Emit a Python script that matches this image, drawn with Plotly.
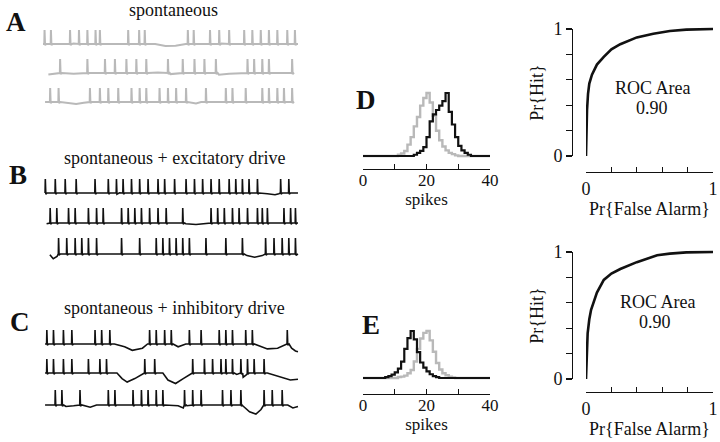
import numpy as np
import plotly.graph_objects as go

W, H = 720, 442
SERIF = "Liberation Serif, Times New Roman, serif"
GREY = "#b9b9b9"
BLACK = "#111111"

# ---------------- data ----------------
# spike times (ms) within a 1000 ms sweep, three sweeps per condition
A_spikes = [
    [5, 30, 105, 140, 173, 205, 222, 333, 376, 398, 567, 590, 654, 690, 729, 788, 820, 853, 885, 918, 957, 987],
    [66, 173, 242, 281, 326, 365, 404, 489, 547, 593, 632, 677, 801, 827, 859, 885, 976],
    [27, 60, 183, 222, 255, 294, 346, 378, 404, 456, 489, 521, 560, 638, 716, 742, 794, 859, 885, 918, 944, 976],
]
B_spikes = [
    [8, 47, 86, 129, 203, 255, 287, 313, 346, 378, 411, 450, 476, 515, 560, 593, 625, 658, 690, 729, 755, 781, 807, 840, 931, 963],
    [27, 53, 99, 125, 177, 209, 235, 307, 333, 359, 385, 417, 450, 482, 547, 658, 684, 710, 742, 768, 801, 840, 859, 879, 944, 970, 989],
    [60, 92, 125, 151, 177, 209, 307, 378, 443, 469, 495, 521, 547, 573, 638, 716, 781, 872, 905, 937, 963, 989],
]
C_spikes = [
    [14, 40, 79, 112, 203, 229, 261, 417, 443, 476, 502, 573, 619, 690, 716, 742, 794, 820, 957],
    [14, 40, 79, 112, 177, 222, 248, 398, 437, 586, 632, 664, 697, 716, 742, 775, 801, 827, 866],
    [47, 73, 144, 255, 281, 352, 385, 411, 443, 469, 554, 586, 619, 703, 736, 775, 866, 898, 937],
]
# sub-threshold membrane potential samples (time ms, relative to spike height)
A_base_t = [
    [0, 120, 250, 330, 440, 480, 520, 560, 700, 1000],
    [21, 120, 300, 450, 500, 690, 730, 780, 983],
    [8, 100, 130, 160, 400, 580, 600, 620, 983],
]
A_base_v = [
    [0, 0.03, 0, -0.05, 0, -0.15, -0.12, 0, 0.03, 0],
    [-0.1, -0.05, 0, 0.03, -0.08, -0.12, -0.05, 0, 0],
    [0, -0.1, -0.15, -0.05, 0, -0.05, -0.1, 0, 0],
]
B_base_t = [
    [8, 300, 600, 880, 910, 925, 1000],
    [14, 260, 560, 600, 630, 900, 1000],
    [27, 40, 55, 300, 600, 800, 830, 860, 1000],
]
B_base_v = [
    [0, 0.02, 0, -0.05, -0.12, -0.05, 0],
    [-0.05, 0, -0.05, -0.1, -0.05, 0, 0],
    [-0.05, -0.3, -0.15, 0, 0, -0.1, -0.2, -0.1, 0],
]
C_base_t = [
    [8, 200, 280, 320, 350, 390, 410, 500, 530, 560, 640, 850, 880, 920, 950, 975, 990, 1000],
    [8, 150, 290, 310, 330, 360, 380, 470, 490, 520, 550, 575, 760, 785, 800, 880, 940, 970, 1000],
    [8, 90, 120, 185, 210, 300, 530, 550, 565, 780, 810, 835, 855, 960, 980, 1000],
]
C_base_v = [
    [0, 0, 0, -0.2, -0.45, -0.3, 0, 0, -0.2, 0, 0, -0.15, -0.35, -0.3, -0.1, -0.3, -0.5, -0.55],
    [0, 0, 0, -0.4, -0.65, -0.4, -0.2, 0, -0.5, -0.75, -0.4, -0.1, -0.1, -0.3, -0.1, 0, -0.3, -0.5, -0.45],
    [0, -0.1, -0.05, -0.15, 0, 0, -0.05, -0.2, -0.05, 0, -0.45, -0.6, -0.3, 0, -0.2, -0.1],
]

# spike-count distributions (relative frequency, bins 0..40 spikes)
bins = list(range(0, 41))
D_spont_start = 11
D_spont = [0.02, 0.04, 0.08, 0.18, 0.3, 0.47, 0.62, 0.8, 0.92, 1.0, 0.85, 0.64, 0.4, 0.25, 0.15, 0.09, 0.05, 0.03, 0.01]
D_exc_start = 16
D_exc = [0.02, 0.05, 0.08, 0.14, 0.3, 0.55, 0.66, 0.73, 0.8, 0.87, 1.0, 0.7, 0.5, 0.3, 0.16, 0.09, 0.05, 0.02]
E_spont_start = 11
E_spont = [0.02, 0.03, 0.05, 0.1, 0.17, 0.35, 0.62, 0.84, 0.96, 1.0, 0.8, 0.56, 0.32, 0.18, 0.1, 0.06, 0.03, 0.01]
E_inh_start = 7
E_inh = [0.02, 0.04, 0.07, 0.12, 0.2, 0.35, 0.62, 0.85, 1.0, 0.82, 0.55, 0.33, 0.22, 0.14, 0.08, 0.04, 0.02]

# ROC curves
roc1_fa = [0, 0.003, 0.008, 0.016, 0.026, 0.047, 0.086, 0.14, 0.2, 0.27, 0.4, 0.53, 0.66, 0.79, 1.0]
roc1_hit = [0, 0.18, 0.36, 0.49, 0.57, 0.64, 0.72, 0.78, 0.84, 0.88, 0.934, 0.963, 0.984, 0.995, 1.0]
roc2_fa = [0, 0.005, 0.013, 0.026, 0.04, 0.086, 0.14, 0.2, 0.27, 0.4, 0.56, 0.66, 0.79, 1.0]
roc2_hit = [0, 0.2, 0.36, 0.47, 0.545, 0.68, 0.78, 0.83, 0.866, 0.92, 0.974, 0.987, 0.997, 1.0]
roc_area = "0.90"

hist_ticks = [0, 10, 20, 30, 40]
hist_ticktext = ["0", "", "20", "", "40"]
roc_ticks = [0, 0.2, 0.4, 0.6, 0.8, 1.0]
roc_ticktext = ["0", "", "", "", "", "1"]


# ---------------- helpers ----------------
def px(x):
    return x / W


def py(y):
    return 1 - y / H


def build_sweep(spk, bt, bv):
    events = [(t, [(t, v)]) for t, v in zip(bt, bv)]
    for s in spk:
        events.append((s, [(s, 0), (s + 1, 1), (s + 3, -0.08), (s + 8, 0)]))
    events.sort(key=lambda e: e[0])
    xs, ys = [], []
    for _, pts in events:
        for x, y in pts:
            xs.append(x)
            ys.append(y)
    return xs, ys


def pad(start, vals):
    y = [0.0] * len(bins)
    for i, v in enumerate(vals):
        y[start + i] = v
    return y


fig = go.Figure()
layout = {}
axis_style = dict(showline=True, linecolor=BLACK, linewidth=1.2, tickcolor=BLACK, tickwidth=1.2,
                  showgrid=False, zeroline=False, fixedrange=True, automargin=False)

# ---- spike rasters (panels A-C) ----
rows = [
    (A_spikes, A_base_t, A_base_v, GREY, 2.0, [(44, 30), (73, 59), (102, 88)]),
    (B_spikes, B_base_t, B_base_v, BLACK, 1.6, [(193, 179), (223, 208), (254, 238)]),
    (C_spikes, C_base_t, C_base_v, BLACK, 1.6, [(344, 330), (373, 359), (405, 390)]),
]
k = 0
for spks, bts, bvs, col, lw, pos in rows:
    for i in range(3):
        k += 1
        base, top = pos[i]
        s = base - top
        xs, ys = build_sweep(spks[i], bts[i], bvs[i])
        fig.add_trace(go.Scatter(x=xs, y=ys, mode="lines", line=dict(color=col, width=lw),
                                 xaxis=f"x{k}", yaxis=f"y{k}", showlegend=False, hoverinfo="skip"))
        layout[f"xaxis{k}"] = dict(domain=[px(42), px(299)], range=[-4, 1004], visible=False,
                                   anchor=f"y{k}", fixedrange=True, automargin=False)
        layout[f"yaxis{k}"] = dict(domain=[py(base + 12), py(top - 3)], range=[-12 / s, 1 + 3 / s],
                                   visible=False, anchor=f"x{k}", fixedrange=True, automargin=False)

# ---- histograms D, E ----
hists = [
    (10, D_spont_start, D_spont, D_exc_start, D_exc, 156, 93, 169),
    (11, E_spont_start, E_spont, E_inh_start, E_inh, 378, 331, 394),
]
for k, gs, gv, bs, bv, base, top, axy in hists:
    s = base - top
    fig.add_trace(go.Scatter(x=bins, y=pad(gs, gv), mode="lines", line=dict(color=GREY, width=2.4, shape="hv"),
                             xaxis=f"x{k}", yaxis=f"y{k}", showlegend=False, hoverinfo="skip"))
    fig.add_trace(go.Scatter(x=bins, y=pad(bs, bv), mode="lines", line=dict(color=BLACK, width=2.2, shape="hv"),
                             xaxis=f"x{k}", yaxis=f"y{k}", showlegend=False, hoverinfo="skip"))
    layout[f"xaxis{k}"] = dict(domain=[px(363), px(490)], range=[0, 40], anchor=f"y{k}",
                               ticks="inside", ticklen=5, tickvals=hist_ticks, ticktext=hist_ticktext,
                               ticklabelstandoff=-5,
                               tickfont=dict(family=SERIF, size=17, color=BLACK),
                               title=dict(text="spikes", font=dict(family=SERIF, size=17, color=BLACK), standoff=0),
                               **axis_style)
    layout[f"yaxis{k}"] = dict(domain=[py(axy), py(top - 6)], range=[-(axy - base) / s, 1 + 6 / s], visible=False,
                               anchor=f"x{k}", fixedrange=True, automargin=False)

# ---- ROC curves ----
rocs = [
    (12, 14, roc1_fa, roc1_hit, 29, 156, 172, (653, 88), (652, 108)),
    (13, 15, roc2_fa, roc2_hit, 252, 379, 392, (658, 302), (655, 322)),
]
for k, ky, fa, hit, ytop, ybot, axy, t1, t2 in rocs:
    s = ybot - ytop
    fig.add_trace(go.Scatter(x=fa, y=hit, mode="lines", line=dict(color=BLACK, width=2.6),
                             xaxis=f"x{k}", yaxis=f"y{k}", showlegend=False, hoverinfo="skip"))
    # carrier for the detached ordinate axis
    fig.add_trace(go.Scatter(x=[], y=[], mode="lines", xaxis=f"x{k}", yaxis=f"y{ky}",
                             showlegend=False, hoverinfo="skip"))
    layout[f"xaxis{k}"] = dict(domain=[px(586), px(713)], range=[0, 1], anchor=f"y{k}",
                               ticks="inside", ticklen=5, tickvals=roc_ticks, ticktext=roc_ticktext,
                               tickfont=dict(family=SERIF, size=18, color=BLACK),
                               title=dict(text="Pr{False Alarm}", font=dict(family=SERIF, size=18, color=BLACK),
                                          standoff=0),
                               **axis_style)
    layout[f"yaxis{k}"] = dict(domain=[py(axy), py(ytop - 3)], range=[-(axy - ybot) / s, 1 + 3 / s],
                               visible=False, anchor=f"x{k}", fixedrange=True, automargin=False)
    layout[f"yaxis{ky}"] = dict(domain=[py(ybot), py(ytop)], range=[0, 1], anchor="free", position=px(572),
                                ticks="outside", ticklen=6, tickvals=roc_ticks, ticktext=roc_ticktext,
                                tickfont=dict(family=SERIF, size=18, color=BLACK),
                                title=dict(text="Pr{Hit}", font=dict(family=SERIF, size=18, color=BLACK),
                                           standoff=4),
                                **axis_style)

annotations = []


def ann(text, x, y, size, bold=False):
    annotations.append(dict(text=f"<b>{text}</b>" if bold else text, x=px(x), y=py(y), xref="paper",
                            yref="paper", showarrow=False, xanchor="center", yanchor="middle",
                            font=dict(family=SERIF, size=size, color=BLACK)))


ann("A", 16, 22, 27, True)
ann("B", 18, 175, 27, True)
ann("C", 20, 322, 27, True)
ann("D", 366, 100, 27, True)
ann("E", 371, 325, 27, True)
ann("spontaneous", 173, 10, 18)
ann("spontaneous + excitatory drive", 175, 158, 18)
ann("spontaneous + inhibitory drive", 174, 308, 18)
for k, ky, fa, hit, ytop, ybot, axy, t1, t2 in rocs:
    ann("ROC Area", t1[0], t1[1], 18)
    ann(roc_area, t2[0], t2[1], 18)

fig.update_layout(width=W, height=H, margin=dict(l=0, r=0, t=0, b=0, autoexpand=False), paper_bgcolor="white",
                  plot_bgcolor="rgba(0,0,0,0)", annotations=annotations, **layout)
fig.write_html("out.html", config={"displayModeBar": False, "staticPlot": True},
               post_script="document.body.style.margin='0';document.body.style.padding='0';")
